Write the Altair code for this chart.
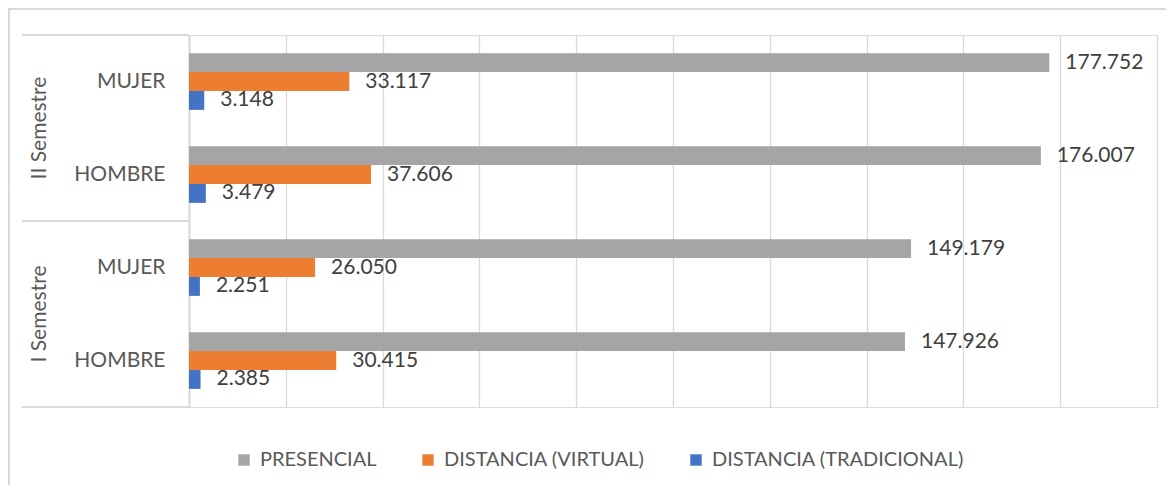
import altair as alt
import pandas as pd

# ---- data ----
semestres = ["II Semestre", "II Semestre", "I Semestre", "I Semestre"]
generos = ["MUJER", "HOMBRE", "MUJER", "HOMBRE"]
presencial = [177752, 176007, 149179, 147926]
dist_virtual = [33117, 37606, 26050, 30415]
dist_tradicional = [3148, 3479, 2251, 2385]

series_names = ["PRESENCIAL", "DISTANCIA (VIRTUAL)", "DISTANCIA (TRADICIONAL)"]
series_colors = ["#A5A5A5", "#ED7D31", "#4472C4"]
sem_order = ["II Semestre", "I Semestre"]
x_ticks = list(range(0, 200001, 20000))

rows = []
for i in range(len(generos)):
    key = semestres[i] + "|" + generos[i]
    for name, vals in zip(series_names, [presencial, dist_virtual, dist_tradicional]):
        rows.append({"key": key, "semestre": semestres[i], "genero": generos[i],
                     "serie": name, "valor": vals[i]})
df = pd.DataFrame(rows)
key_order = [s + "|" + g for s, g in zip(semestres, generos)]
sem_df = pd.DataFrame({"semestre": sem_order})

FONT = "Lato"
GRID = "#D9D9D9"
FS = 21

y_key = alt.Y("key:N", sort=key_order, title=None,
              scale=alt.Scale(paddingInner=0.39, paddingOuter=0.195),
              axis=alt.Axis(labelExpr="split(datum.label, '|')[1]", ticks=False,
                            domain=True, domainColor=GRID, domainWidth=2,
                            labelFont=FONT, labelFontSize=FS, labelColor="#595959",
                            labelPadding=24, grid=False))
y_off = alt.YOffset("serie:N", sort=series_names,
                    scale=alt.Scale(paddingInner=0, paddingOuter=0))
x_enc = alt.X("valor:Q", title=None,
              scale=alt.Scale(domain=[0, 200000], nice=False, zero=True),
              axis=alt.Axis(values=x_ticks, labels=False, ticks=False, domain=False,
                            grid=True, gridColor=GRID, gridWidth=1.3))

bars = alt.Chart(df).mark_bar().encode(
    x=x_enc,
    y=y_key,
    yOffset=y_off,
    color=alt.Color("serie:N", sort=series_names,
                    scale=alt.Scale(domain=series_names, range=series_colors),
                    legend=alt.Legend(orient="none", legendX=45, legendY=415,
                                      direction="horizontal", title=None,
                                      symbolType="square", symbolSize=130,
                                      symbolStrokeWidth=0, labelFont=FONT,
                                      labelFontSize=20, labelColor="#595959",
                                      labelOffset=6, labelLimit=0,
                                      columnPadding=41)),
)

labels = alt.Chart(df).transform_calculate(
    etiqueta="replace(format(datum.valor, ','), ',', '.')"
).mark_text(align="left", baseline="middle", dx=16, font=FONT, fontSize=FS,
            color="#404040").encode(
    x=alt.X("valor:Q"),
    y=y_key,
    yOffset=y_off,
    text="etiqueta:N",
)

main = alt.layer(bars, labels)

y_sem = alt.Y("semestre:N", sort=sem_order, axis=None,
              scale=alt.Scale(type="band", paddingInner=0, paddingOuter=0))

sem_text = alt.Chart(sem_df).mark_text(angle=270, align="center", baseline="middle",
                                       font=FONT, fontSize=FS, color="#595959").encode(
    y=y_sem,
    x=alt.value(-149),
    text="semestre:N",
)
sep_top = alt.Chart(sem_df).mark_rule(color=GRID, strokeWidth=2).encode(
    y=alt.Y("semestre:N", sort=sem_order, axis=None, bandPosition=0,
            scale=alt.Scale(type="band", paddingInner=0, paddingOuter=0)),
    x=alt.value(-167), x2=alt.value(0),
)
sep_bot = alt.Chart(sem_df).mark_rule(color=GRID, strokeWidth=2).encode(
    y=alt.Y("semestre:N", sort=sem_order, axis=None, bandPosition=1,
            scale=alt.Scale(type="band", paddingInner=0, paddingOuter=0)),
    x=alt.value(-167), x2=alt.value(0),
)
frame_top = alt.Chart(sem_df).mark_rule(color=GRID, strokeWidth=2).encode(
    y=alt.value(-26), x=alt.value(-181), x2=alt.value(977),
)
frame_left = alt.Chart(sem_df).mark_rule(color=GRID, strokeWidth=2).encode(
    x=alt.value(-180), y=alt.value(-27), y2=alt.value(450),
)

sem = alt.layer(sem_text, sep_top, sep_bot, frame_top, frame_left)

chart = alt.layer(main, sem).resolve_scale(y="independent").properties(
    width=968, height=372,
    padding={"left": 181, "top": 27, "right": 9, "bottom": 78},
    autosize=alt.AutoSizeParams(type="none"),
).configure_view(stroke=None).configure(background="white")

chart.save("out.html", embed_options={"renderer": "svg", "actions": False})
